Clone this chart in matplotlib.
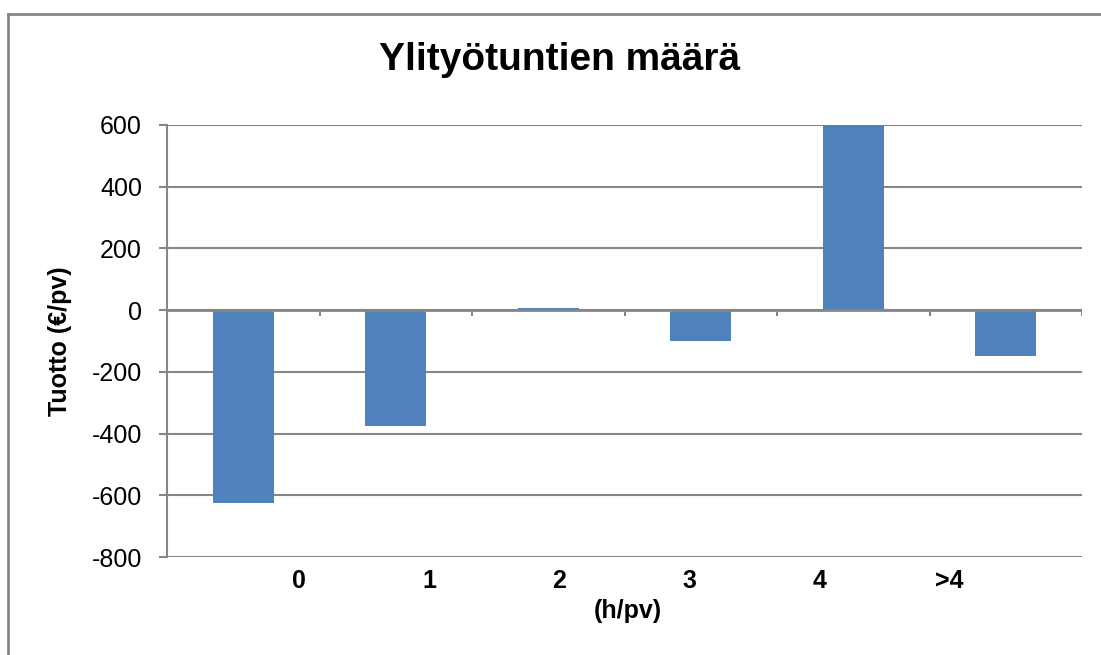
import matplotlib.pyplot as plt
from matplotlib.lines import Line2D
import numpy as np

plt.rcParams['font.family'] = ['Liberation Sans', 'DejaVu Sans']

# ---- Data ----
categories = ['0', '1', '2', '3', '4', '>4']
tuotto = [-625, -375, 8, -100, 600, -150]
yticks = [-800, -600, -400, -200, 0, 200, 400, 600]

bar_color = '#4F81BD'
grid_color = '#868686'

# ---- Plot ----
fig = plt.figure(figsize=(11.01, 6.55), dpi=100)
ax = fig.add_axes([0.1517, 0.1496, 0.8311, 0.6596])

x = np.arange(len(categories))
ax.bar(x, tuotto, width=0.4, color=bar_color, zorder=3)

ax.set_xlim(-0.5, len(categories) - 0.5)
ax.set_ylim(-800, 600)
ax.set_yticks(yticks)
ax.set_yticklabels([str(v) for v in yticks], fontsize=18)
ax.yaxis.grid(True, color=grid_color, linewidth=1.5, zorder=1)
ax.tick_params(axis='y', direction='out', length=6, width=1.5, color=grid_color, pad=12)
ax.set_xticks([])

for s in ['top', 'right', 'bottom']:
    ax.spines[s].set_visible(False)
ax.spines['left'].set_color(grid_color)
ax.spines['left'].set_linewidth(1.5)

# category axis at zero with tick marks between categories
ax.axhline(0, color=grid_color, linewidth=2, zorder=4)
bounds = np.arange(len(categories) + 1) - 0.5
ax.vlines(bounds[1:], -20, 0, color=grid_color, linewidth=1.5, zorder=4)

# category labels (shifted like in the original chart)
label_pos = 0.366 + np.arange(len(categories)) * 0.853
for p, c in zip(label_pos, categories):
    ax.text(p, -0.055, c, transform=ax.get_xaxis_transform(), ha='center', va='center',
            fontsize=18, fontweight='bold')
ax.text(0.504, -0.125, '(h/pv)', transform=ax.transAxes, ha='center', va='center',
        fontsize=18, fontweight='bold')

ax.set_ylabel('Tuotto (€/pv)', fontsize=18, fontweight='bold')
ax.yaxis.set_label_coords(-0.104, 0.5)
fig.text(0.508, 1 - 70 / 655, 'Ylityötuntien määrä', ha='center', va='baseline',
         fontsize=28, fontweight='bold')

# outer chart border (left and top edges visible)
fig.add_artist(Line2D([8 / 1101, 8 / 1101], [0, 1 - 14 / 655], color=grid_color, linewidth=2))
fig.add_artist(Line2D([8 / 1101, 1], [1 - 14 / 655, 1 - 14 / 655], color=grid_color, linewidth=2))

plt.savefig('out.png', dpi=100)
plt.close()
